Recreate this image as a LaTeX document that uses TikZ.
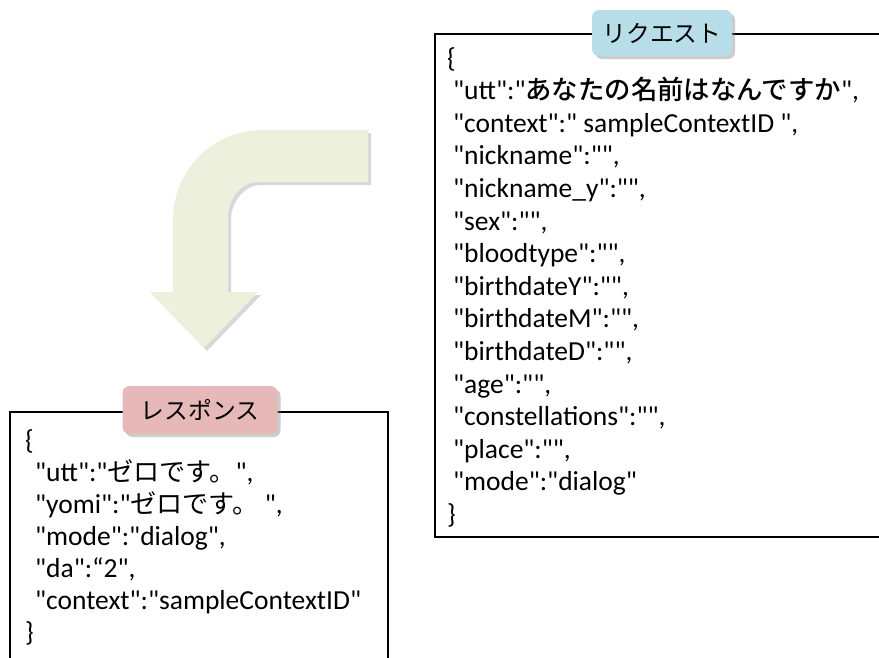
\documentclass[tikz,border=0pt]{standalone}
\usepackage{fontspec}
\setmainfont{Carlito}[Ligatures=TeXOff]
\newfontfamily\jp{Noto Sans CJK JP}[Scale=0.95]
\newfontfamily\jpm{Noto Sans CJK JP Medium}[Scale=0.96]
\usetikzlibrary{shadows}
\definecolor{reqblue}{HTML}{B7DEE8}
\definecolor{respink}{HTML}{E6B9B8}
\definecolor{turnfill}{HTML}{EEF0DE}
\tikzset{
  frame/.style={line width=2.5pt},
  tag/.style={rounded corners=7pt, minimum width=140pt, minimum height=46pt, inner sep=0pt,
    font=\jp\fontsize{25}{25}\selectfont,
    drop shadow={shadow xshift=3pt, shadow yshift=-3pt, opacity=.4}},
  json/.style={anchor=north west, inner sep=0pt, align=left, font=\fontsize{27.5}{32.6}\selectfont},
}
\begin{document}
\begin{tikzpicture}[x=1pt,y=-1pt]
			%%%%% START %%%%%
			\clip (0,0) rectangle (879,657);
			\fill[white] (0,0) rectangle (879,657);
			
			% bent arrow
			\fill[turnfill, drop shadow={shadow xshift=3pt, shadow yshift=-3pt, opacity=.3}]
			(368,130) -- (262,130) .. controls (213,130) and (173,170) .. (173,220) -- (173,292)
			-- (150,292) -- (204,348) -- (258,292) -- (228,292) -- (228,217)
			.. controls (228,199) and (241,182) .. (258,182) -- (368,182) -- cycle;
			
			% request
			\draw[frame] (435,34) rectangle (900,537);
			\node[tag, fill=reqblue] (req) at (662,33) {リクエスト};
			\node[json] (reqtext) at (447,47) {\{\\
				\hspace*{6pt}"utt":"{\jpm あなたの名前はなんですか}",\\
				\hspace*{6pt}"context":" sampleContextID ",\\
				\hspace*{6pt}"nickname":"",\\
				\hspace*{6pt}"nickname\_y":"",\\
				\hspace*{6pt}"sex":"",\\
				\hspace*{6pt}"bloodtype":"",\\
				\hspace*{6pt}"birthdateY":"",\\
				\hspace*{6pt}"birthdateM":"",\\
				\hspace*{6pt}"birthdateD":"",\\
				\hspace*{6pt}"age":"",\\
				\hspace*{6pt}"constellations":"",\\
				\hspace*{6pt}"place":"",\\
				\hspace*{6pt}"mode":"dialog"\\
				\}};
			
			% response
			\draw[frame] (10,412) rectangle (388,700);
			\node[tag, fill=respink, minimum width=155pt, minimum height=48pt] (res) at (200,410) {レスポンス};
			\node[json, font=\fontsize{27.5}{32}\selectfont] (restext) at (25,429) {\{\\
				\hspace*{10pt}"utt":"{\jp ゼロです。}",\\
				\hspace*{10pt}"yomi":"{\jp ゼロです。} ",\\
				\hspace*{10pt}"mode":"dialog",\\
				\hspace*{10pt}"da":“2",\\
				\hspace*{10pt}"context":"sampleContextID"\\
				\}};
			
			%%%%% END %%%%%
\end{tikzpicture}
\end{document}
